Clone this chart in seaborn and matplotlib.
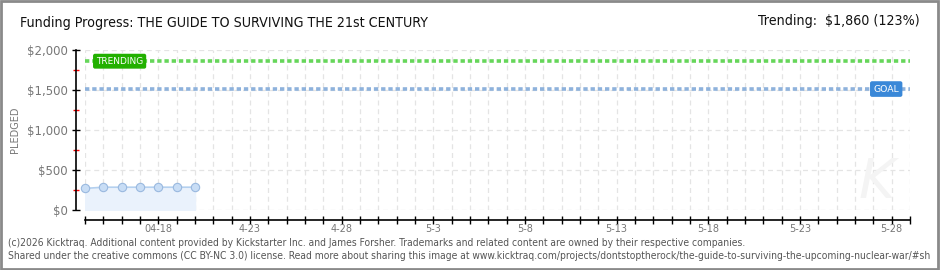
import matplotlib
matplotlib.use("Agg")
import matplotlib.pyplot as plt
import seaborn as sns
import pandas as pd
from matplotlib.patches import Rectangle
from matplotlib.ticker import MultipleLocator, FixedLocator, FuncFormatter
from matplotlib import font_manager as fm

# ---- data ----
days = [0, 1, 2, 3, 4, 5, 6]            # day index from 04-14
pledged = [270, 285, 285, 285, 285, 285, 285]
goal = 1512
trending = 1860
tick_days = [4, 9, 14, 19, 24, 29, 34, 39, 44]
tick_labels = ["04-18", "4-23", "4-28", "5-3", "5-8", "5-13", "5-18", "5-23", "5-28"]
title = "Funding Progress: THE GUIDE TO SURVIVING THE 21st CENTURY"
trend_text = "Trending:  $1,860 (123%)"
footer1 = ("(c)2026 Kicktraq. Additional content provided by Kickstarter Inc. and James Forsher. "
           "Trademarks and related content are owned by their respective companies.")
footer2 = ("Shared under the creative commons (CC BY-NC 3.0) license. Read more about sharing this image at "
           "www.kicktraq.com/projects/dontstoptherock/the-guide-to-surviving-the-upcoming-nuclear-war/#sh")

df = pd.DataFrame({"day": days, "pledged": pledged})

sns.set_style("white")
plt.rcParams['font.family'] = ['DejaVu Sans']

names = {f.name + "|" + str(f.stretch) for f in fm.fontManager.ttflist}
have_cond = any(("DejaVu Sans" in n and "condensed" in n) for n in names)
cond = dict(family=['DejaVu Sans'], fontstretch='condensed') if have_cond else dict(family=['DejaVu Sans'])

fig = plt.figure(figsize=(9.4, 2.7), dpi=100)
ax = fig.add_axes([85/940, 60/270, 825/940, 160/270])

ax.fill_between(df["day"], 0, df["pledged"], color="#eaf2fc", zorder=1)
sns.lineplot(data=df, x="day", y="pledged", ax=ax, color="#b4d0ef", lw=1.2,
             marker="o", markersize=6, markerfacecolor="#c8ddf5",
             markeredgecolor="#9ab9df", markeredgewidth=0.8, zorder=3, clip_on=False)

ax.axhline(trending, color="#66d65a", lw=2.6, ls=(0, (1.2, 0.8)), zorder=2)
ax.axhline(goal, color="#8eb2dc", lw=2.6, ls=(0, (1.2, 0.8)), zorder=2)

ax.set_xlim(0, 45)
ax.set_ylim(0, 2000)

ax.xaxis.set_major_locator(FixedLocator(tick_days))
ax.xaxis.set_minor_locator(MultipleLocator(1))
ax.set_xticklabels(tick_labels)
ax.yaxis.set_major_locator(MultipleLocator(500))
ax.yaxis.set_minor_locator(MultipleLocator(250))
ax.yaxis.set_major_formatter(FuncFormatter(lambda v, p: f"${int(v):,}"))
ax.grid(False)
for d in range(0, 46):
    ax.axvline(d, color="#e4e4e4", lw=0.9, ls=(0, (4, 3)), zorder=0)
for v in [0, 500, 1000, 1500, 2000]:
    ax.axhline(v, color="#e4e4e4", lw=0.9, ls=(0, (4, 3)), zorder=0)

ax.tick_params(axis="both", which="both", left=True, bottom=True)
ax.tick_params(axis="x", which="both", direction="inout", length=6, width=1,
               color="black", labelsize=7, labelcolor="#777777", pad=0)
ax.tick_params(axis="y", which="major", direction="inout", length=6, width=1,
               color="black", labelsize=8.5, labelcolor="#777777", pad=3)
ax.tick_params(axis="y", which="minor", direction="inout", length=4, width=1, color="red")

sns.despine(ax=ax, offset={"left": 6.5, "bottom": 7.2}, top=True, right=True)
for s in ("left", "bottom"):
    ax.spines[s].set_color("black")
    ax.spines[s].set_linewidth(1.2)
ax.set_xlabel("")
ax.set_ylabel("PLEDGED", color="#777777", fontsize=7)
ax.yaxis.set_label_coords((20 - 85) / 825, 0.5)

# labels on lines
ax.text(0.6, trending, "TRENDING", color="white", fontsize=6.5, va="center", ha="left",
        bbox=dict(boxstyle="round,pad=0.25,rounding_size=0.15", fc="#22b000", ec="#22b000"), zorder=5)
ax.text(43.0, goal, "GOAL", color="white", fontsize=6.7, va="center", ha="left",
        bbox=dict(boxstyle="round,pad=0.28,rounding_size=0.15", fc="#3a88d8", ec="#3a88d8"), zorder=5)

# faint watermark
ax.text(43.2, 350, "K", fontsize=40, color="#f4f4f4", ha="center", va="center",
        style="italic", zorder=0.5)

# titles
tsize = 10.2 if have_cond else 9.2
fig.text(20/940, 1 - 23/270, title, fontsize=tsize, color="#111111", va="center", ha="left", **cond)
fig.text(920/940, 1 - 21/270, trend_text, fontsize=tsize, color="#111111", va="center", ha="right", **cond)

# footer
fsize = 7.4 if have_cond else 6.8
fig.text(8/940, 1 - 243/270, footer1, fontsize=fsize, color="#555555", va="center", ha="left", **cond)
fig.text(8/940, 1 - 256/270, footer2, fontsize=fsize, color="#555555", va="center", ha="left", **cond)

# border
fig.patches.append(Rectangle((0.001, 0.002), 0.997, 0.995, transform=fig.transFigure,
                             fill=False, ec="#8a8a8a", lw=2))

fig.savefig("out.png", dpi=100, facecolor="white")
